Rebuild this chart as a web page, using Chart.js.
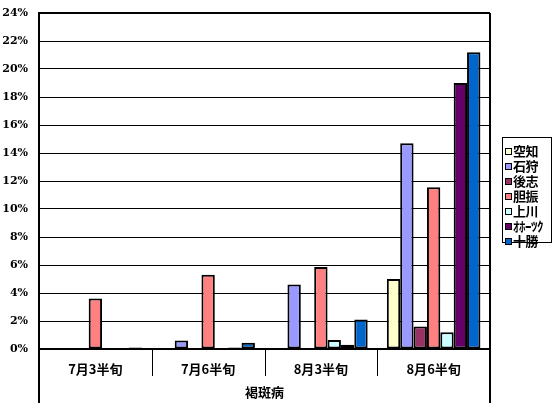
<!DOCTYPE html>
<html>
<head>
<meta charset="utf-8">
<script src="https://cdn.jsdelivr.net/npm/chart.js@4"></script>
<style>
  html, body { margin: 0; padding: 0; background: #fff; }
  #wrap { position: relative; width: 558px; height: 408px; }
  #legend {
    position: absolute; left: 502px; top: 137px; width: 50px; height: 106px;
    border: 1px solid #000; background: #fff;
    font: bold 13px "Noto Sans CJK JP", sans-serif; color: #000;
    box-sizing: border-box; padding: 5px 0 0 2px;
  }
  #legend div { height: 15px; line-height: 15px; white-space: nowrap; letter-spacing: -0.5px; }
  #legend span {
    display: inline-block; width: 5px; height: 5px; border: 1px solid #000;
    margin-right: 1px; vertical-align: 1px;
  }
</style>
</head>
<body>
<div id="wrap">
  <canvas id="chart" width="558" height="408"></canvas>
  <div id="legend"></div>
</div>
<script>
var categories = ["7月3半旬", "7月6半旬", "8月3半旬", "8月6半旬"];
var groupLabel = "褐斑病";
var seriesNames = ["空知", "石狩", "後志", "胆振", "上川", "ｵﾎｰﾂｸ", "十勝"];
var seriesColors = ["#FFFFCC", "#9999FF", "#993366", "#FF8080", "#CCFFFF", "#660066", "#0066CC"];

// values in %
var sorachi  = [0, 0, 0, 5.0];
var ishikari = [0, 0.6, 4.6, 14.7];
var shiribeshi = [0, 0, 0, 1.6];
var iburi    = [3.6, 5.3, 5.85, 11.55];
var kamikawa = [0, 0, 0.65, 1.2];
var okhotsk  = [0, 0.1, 0.3, 19.0];
var tokachi  = [0.1, 0.45, 2.1, 21.2];
var seriesValues = [sorachi, ishikari, shiribeshi, iburi, kamikawa, okhotsk, tokachi];

var legendHtml = "";
seriesNames.forEach(function(name, i) {
    legendHtml += '<div><span style="background:' + seriesColors[i] + '"></span>' + name + '</div>';
});
document.getElementById("legend").innerHTML = legendHtml;

// box lines + category separators
var framePlugin = {
    id: "frame",
    afterDraw: function(chart) {
        var ctx = chart.ctx;
        var area = chart.chartArea;
        var x = chart.scales.x;
        var bottom = 403;
        ctx.save();
        ctx.strokeStyle = "#000";
        ctx.lineWidth = 2;
        ctx.beginPath();
        ctx.moveTo(area.left, area.top);
        ctx.lineTo(area.left, bottom);
        ctx.moveTo(area.right, area.top);
        ctx.lineTo(area.right, bottom);
        ctx.moveTo(area.left, area.top);
        ctx.lineTo(area.right, area.top);
        ctx.stroke();
        ctx.lineWidth = 1;
        ctx.beginPath();
        for (var i = 0; i < categories.length - 1; i++) {
            var px = Math.round((x.getPixelForValue(i) + x.getPixelForValue(i + 1)) / 2) + 0.5;
            ctx.moveTo(px, area.bottom);
            ctx.lineTo(px, area.bottom + 27);
        }
        ctx.stroke();
        ctx.restore();
    }
};

new Chart(document.getElementById("chart"), {
    type: "bar",
    data: {
        labels: categories,
        datasets: seriesNames.map(function(name, i) {
            return {
                label: name,
                data: seriesValues[i],
                backgroundColor: seriesColors[i],
                borderColor: "#000",
                borderWidth: function(c) { return c.raw ? 2 : 0; },
                borderSkipped: false,
                categoryPercentage: 0.83,
                barPercentage: 1.0
            };
        })
    },
    options: {
        responsive: false,
        animation: false,
        layout: { padding: { left: 0, right: 68, top: 0, bottom: 0 } },
        plugins: {
            legend: { display: false },
            tooltip: { enabled: false }
        },
        scales: {
            x: {
                grid: { display: false },
                border: { display: true, color: "#000", width: 2 },
                ticks: {
                    color: "#000",
                    padding: 4,
                    font: { family: "Noto Sans CJK JP", size: 13, weight: "bold" }
                },
                title: {
                    display: true,
                    text: groupLabel,
                    color: "#000",
                    padding: { top: 2, bottom: 8 },
                    font: { family: "Noto Sans CJK JP", size: 13, weight: "bold" }
                },
                afterFit: function(scale) { scale.height = 59; }
            },
            y: {
                min: 0,
                max: 24,
                ticks: {
                    stepSize: 2,
                    color: "#000",
                    padding: 11,
                    font: { family: "DejaVu Serif", size: 11, weight: "bold" },
                    callback: function(v) { return v + "%"; }
                },
                grid: { color: "#000", lineWidth: 1, drawTicks: false },
                border: { display: true, color: "#000", width: 2 },
                afterFit: function(scale) {
                    scale.width = 39;
                    scale.paddingTop = 13;
                    scale.paddingBottom = 0;
                }
            }
        }
    },
    plugins: [framePlugin]
});
</script>
</body>
</html>
